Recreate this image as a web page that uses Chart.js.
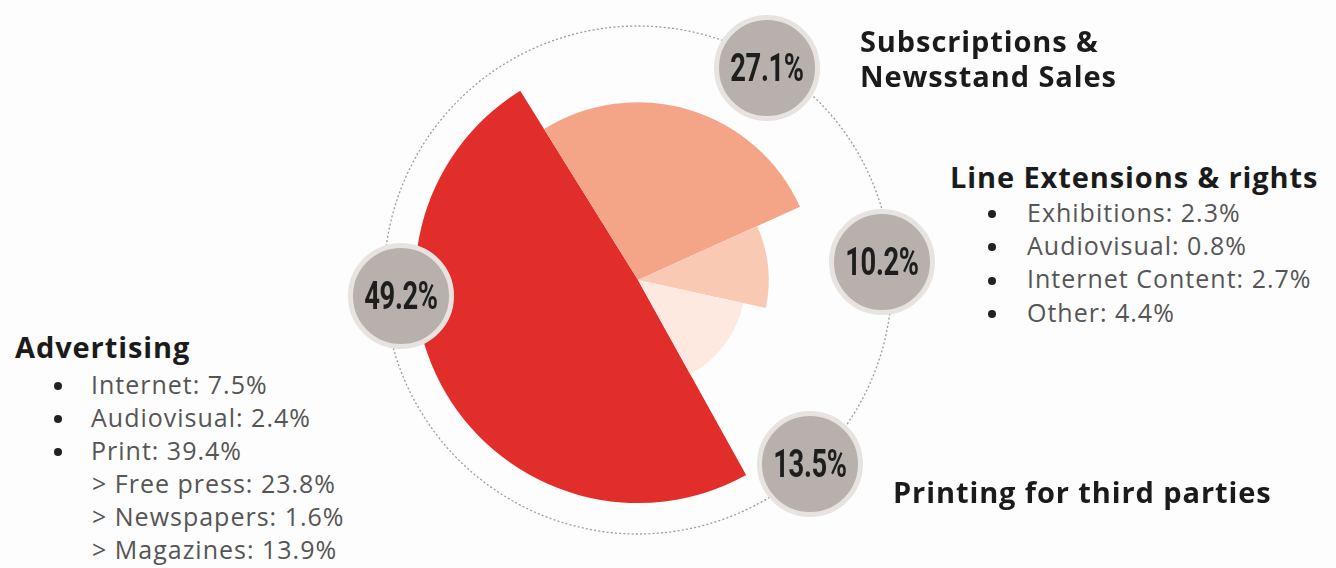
<!DOCTYPE html>
<html><head><meta charset="utf-8">
<script src="https://cdn.jsdelivr.net/npm/chart.js@4.4.1/dist/chart.umd.min.js"></script>
<style>
html,body{margin:0;padding:0;background:#fdfdfd;}
#stage{position:relative;width:1336px;height:568px;overflow:hidden;font-family:'Open Sans',Roboto,sans-serif;}
#wrap{position:absolute;left:374px;top:16px;width:528px;height:528px;}
.t{position:absolute;white-space:nowrap;}
.title{font-weight:700;font-size:29px;color:#1b1b1b;line-height:29px;letter-spacing:0.9px;}
.item{font-size:25px;color:#555;line-height:25px;letter-spacing:1px;}
.bul{position:absolute;width:8px;height:8px;border-radius:50%;background:#222;}
.bubble{position:absolute;width:106px;height:106px;border-radius:50%;background:#b8b0ad;box-sizing:border-box;border:5px solid #e7e3e0;display:flex;align-items:center;justify-content:center;}
.bubble span{font-family:Roboto,sans-serif;font-weight:700;font-size:38px;color:#1e1e1e;transform:scaleX(0.72);display:inline-block;letter-spacing:-0.5px;}
</style></head>
<body><div id="stage"><div id="wrap"><canvas id="c"></canvas></div></div>
<script>
// ---- data ----
const categories = ['Advertising', 'Subscriptions & Newsstand Sales', 'Line Extensions & rights', 'Printing for third parties'];
const shares = [49.2, 27.1, 10.2, 13.5];
const adLabels = ['Internet', 'Audiovisual', 'Print'];
const adValues = [7.5, 2.4, 39.4];
const printLabels = ['Free press', 'Newspapers', 'Magazines'];
const printValues = [23.8, 1.6, 13.9];
const lineExtLabels = ['Exhibitions', 'Audiovisual', 'Internet Content', 'Other'];
const lineExtValues = [2.3, 0.8, 2.7, 4.4];

// ---- style ----
const wedgeColors = ['#e22e2b', '#f4a588', '#f9c9b4', '#fde9e0'];
const wedgeRadius = [0.878, 0.7, 0.515, 0.425];
const bubbleAngle = [176.1, -58.7, -4.2, 46.9];
const bubbleDist = [0.935, 0.977, 0.963, 0.99];

const shapedWedges = {
  id: 'shapedWedges',
  afterDatasetsUpdate(chart) {
    const meta = chart.getDatasetMeta(0);
    const R = meta.controller.outerRadius;
    meta.data.forEach((arc, i) => { arc.outerRadius = R * wedgeRadius[i]; });
  },
  beforeDatasetsDraw(chart) {
    const meta = chart.getDatasetMeta(0);
    const a = meta.data[0];
    const R = meta.controller.outerRadius;
    const ctx = chart.ctx;
    ctx.save();
    ctx.setLineDash([2, 2.2]);
    ctx.strokeStyle = '#9c9c9c';
    ctx.lineWidth = 1.3;
    ctx.beginPath();
    ctx.arc(a.x, a.y, R, 0, Math.PI * 2);
    ctx.stroke();
    ctx.restore();
  }
};

const chart = new Chart(document.getElementById('c'), {
  type: 'pie',
  data: {
    labels: categories,
    datasets: [{ data: shares, backgroundColor: wedgeColors, borderWidth: 0 }]
  },
  options: {
    responsive: true,
    maintainAspectRatio: false,
    animation: false,
    events: [],
    rotation: 151,
    layout: { padding: 10 },
    plugins: { legend: { display: false }, tooltip: { enabled: false } }
  },
  plugins: [shapedWedges]
});

const stage = document.getElementById('stage');
function addText(cls, text, left, baseline, asc) {
  const d = document.createElement('div');
  d.className = 't ' + cls;
  d.textContent = text;
  d.style.left = left + 'px';
  d.style.top = (baseline - asc) + 'px';
  stage.appendChild(d);
  return d;
}
function addBullet(cx, baseline) {
  const b = document.createElement('div');
  b.className = 'bul';
  b.style.left = (cx - 4) + 'px';
  b.style.top = (baseline - 12) + 'px';
  stage.appendChild(b);
}
const TA = 25.7, IA = 22.2;
// Advertising block
addText('title', categories[0], 15, 358, TA);
adLabels.forEach((l, i) => {
  const bl = 394 + i * 33;
  addBullet(58, bl);
  addText('item', l + ': ' + adValues[i].toFixed(1) + '%', 91, bl, IA);
});
printLabels.forEach((l, i) => {
  const bl = 493 + i * 33;
  addText('item', '> ' + l + ': ' + printValues[i].toFixed(1) + '%', 92, bl, IA);
});
// Subscriptions
const subParts = categories[1].split(' & ');
addText('title', subParts[0] + ' &', 860, 52, TA);
addText('title', subParts[1], 860, 87, TA);
// Line extensions
addText('title', categories[2], 950, 188, TA);
lineExtLabels.forEach((l, i) => {
  const bl = 222 + i * 33.3;
  addBullet(992, bl);
  addText('item', l + ': ' + lineExtValues[i].toFixed(1) + '%', 1027, bl, IA);
});
// Printing
addText('title', categories[3], 893, 503, TA);

// bubbles
const meta = chart.getDatasetMeta(0);
const cx = meta.data[0].x + 374, cy = meta.data[0].y + 16;
const R = meta.controller.outerRadius;
shares.forEach((v, i) => {
  const a = bubbleAngle[i] * Math.PI / 180;
  const x = cx + R * bubbleDist[i] * Math.cos(a);
  const y = cy + R * bubbleDist[i] * Math.sin(a);
  const b = document.createElement('div');
  b.className = 'bubble';
  b.style.left = (x - 53) + 'px';
  b.style.top = (y - 53) + 'px';
  const s = document.createElement('span');
  s.textContent = v.toFixed(1) + '%';
  b.appendChild(s);
  stage.appendChild(b);
});
</script>
</body></html>
